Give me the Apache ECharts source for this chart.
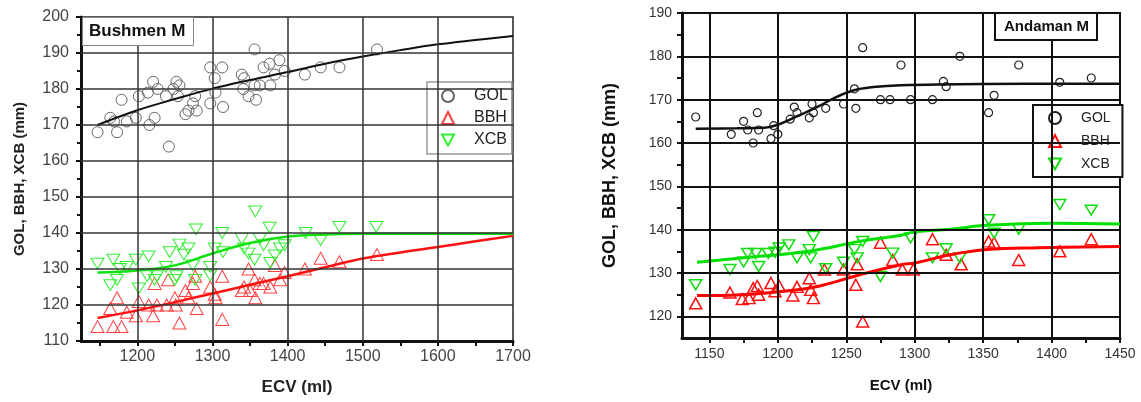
<!DOCTYPE html>
<html><head><meta charset="utf-8">
<script src="https://cdn.jsdelivr.net/npm/echarts@6/dist/echarts.min.js"></script>
<style>html,body{margin:0;padding:0;background:#fff}#c{width:1141px;height:402px}</style>
</head><body><div id="c"></div>
<script>
// ---------- Bushmen M (left) ----------
const bushGOL = [[1147,168],[1164,172],[1169,171],[1173,168],[1179,177],[1186,171],[1198,172],[1202,178],[1214,179],[1216,170],[1221,182],[1223,172],[1227,180],[1238,178],[1242,164],[1248,180],[1252,182],[1256,181],[1254,178],[1264,173],[1268,174],[1274,176],[1277,178],[1279,174],[1297,186],[1297,176],[1303,183],[1304,179],[1313,186],[1314,175],[1339,184],[1342,183],[1341,180],[1348,178],[1356,191],[1356,181],[1358,177],[1363,181],[1368,186],[1376,187],[1377,181],[1383,184],[1389,188],[1396,185],[1423,184],[1444,186],[1469,186],[1519,191]];
const bushBBH = [[1147,114],[1168,114],[1179,114],[1164,119],[1173,122],[1186,118],[1198,117],[1202,121],[1215,120],[1221,117],[1226,120],[1223,126],[1239,120],[1241,127],[1250,122],[1251,120],[1256,115],[1264,124],[1268,122],[1274,126],[1277,128],[1279,119],[1297,125],[1303,123],[1304,122],[1313,128],[1313,116],[1339,124],[1342,125],[1348,130],[1350,124],[1356,127],[1357,122],[1363,126],[1368,126],[1377,125],[1383,131],[1390,127],[1396,129],[1423,130],[1444,133],[1469,132],[1519,134]];
const bushXCB = [[1147,131.5],[1168,132.6],[1164,125.5],[1173,127],[1177,130],[1186,130.6],[1198,132.6],[1202,124.6],[1215,133.5],[1213,128],[1223,127],[1226,128],[1238,130.6],[1243,134.7],[1250,127],[1252,128],[1256,136.8],[1262,134],[1268,135.7],[1274,131],[1278,141],[1277,127],[1297,128.2],[1297,130.6],[1303,135.7],[1313,140],[1314,134.7],[1339,138.4],[1342,135.7],[1348,134.3],[1357,146],[1356,132.6],[1363,138.4],[1368,136.6],[1376,141.5],[1377,131.7],[1383,133.8],[1390,135.7],[1396,136.6],[1424,140],[1444,138],[1469,141.7],[1518,141.7]];
const bushGOLfit = [[1147,170],[1200,174.1],[1250,177.2],[1300,180.1],[1350,182.5],[1400,184.7],[1450,187],[1500,189],[1550,190.8],[1600,192.4],[1650,193.6],[1700,194.7]];
const bushBBHfit = [[1147,116.4],[1200,118.5],[1250,120.8],[1300,123.2],[1350,125.6],[1400,128],[1450,130.5],[1500,132.9],[1550,134.6],[1600,136.1],[1650,137.7],[1700,139.2]];
const bushXCBfit = [[1147,129],[1200,129.6],[1250,131],[1300,134.3],[1350,137.2],[1400,139],[1450,139.6],[1500,139.8],[1600,139.8],[1700,139.8]];
const bushXLabels = [1200,1300,1400,1500,1600,1700];
const bushXTicks = [1150,1200,1250,1300,1350,1400,1450,1500,1550,1600,1650,1700];
const bushXGrid = [1200,1300,1400,1500,1600];
const bushYGrid = [120,130,140,150,160,170,180,190];

// ---------- Andaman M (right) ----------
const andGOL = [[1140,166],[1166,162],[1175,165],[1178,163],[1182,160],[1185,167],[1186,163],[1195,161],[1197,164],[1200,162],[1209,165.5],[1212,168.3],[1214,167],[1223,165.8],[1225,169],[1226,167],[1235,168],[1248,169],[1256,172.5],[1257,168],[1262,182],[1275,170],[1282,170],[1290,178],[1297,170],[1313,170],[1321,174.2],[1323,173],[1333,180],[1354,167],[1358,171],[1376,178],[1406,174],[1429,175]];
const andBBH = [[1140,123],[1165,125.5],[1174,124],[1179,124.2],[1182,126.5],[1185,127],[1186,125],[1195,127.7],[1201,127],[1198,125.8],[1211,124.8],[1214,126.8],[1223,128.8],[1224,126.1],[1226,124.2],[1234,130.8],[1248,130.8],[1257,127.3],[1258,132],[1262,118.8],[1275,137],[1284,133],[1291,130.8],[1299,130.8],[1313,137.8],[1323,134.2],[1334,132],[1354,137.3],[1358,137],[1376,133],[1406,135],[1429,137.8]];
const andXCB = [[1140,127.3],[1165,130.8],[1175,132.5],[1178,134.5],[1184,134.5],[1186,131.5],[1193,134.5],[1198,134.8],[1201,135.8],[1208,136.5],[1214,133.5],[1223,135.4],[1224,133.5],[1226,138.4],[1235,131],[1248,132.5],[1256,135.4],[1258,133.5],[1262,137.3],[1275,129.2],[1284,134.6],[1297,138.1],[1313,133.5],[1323,135.6],[1333,133.5],[1354,142.3],[1358,139.2],[1376,140.1],[1406,145.8],[1429,144.5]];
const andGOLfit = [[1140,163.3],[1170,163.4],[1190,163.5],[1200,164.2],[1215,166.3],[1230,168.5],[1240,170.2],[1255,172.1],[1270,172.9],[1290,173.3],[1350,173.6],[1450,173.7]];
const andBBHfit = [[1141,124.8],[1173,125],[1204,125.8],[1229,126.9],[1260,129.6],[1290,131.9],[1300,132.3],[1326,134.2],[1353,135.4],[1390,135.8],[1450,136.1]];
const andXCBfit = [[1141,132.5],[1175,133.5],[1224,135.1],[1260,137.3],[1290,138.7],[1300,139.5],[1326,140.1],[1353,141],[1400,141.5],[1450,141.3]];
const andXLabels = [1150,1200,1250,1300,1350,1400,1450];
const andXTicks = [1150,1175,1200,1225,1250,1275,1300,1325,1350,1375,1400,1425,1450];
const andYLabels = [120,130,140,150,160,170,180,190];
const andYTicks = [120,125,130,135,140,145,150,155,160,165,170,175,180,185,190];
const andXGrid = [1150,1200,1250,1300,1350,1400];
const andYGrid = [120,130,140,150,160,170,180];

const NB = '\u00a0';
const DOWN = 'path://M0,0L10,0L5,9Z';
const plain = v => String(v);
function gridSeries(gi, xs, ys, color, w) {
  return {type:'scatter', xAxisIndex:gi, yAxisIndex:gi, data:[], z:1, silent:true,
    markLine:{silent:true, symbol:['none','none'], label:{show:false}, animation:false,
      lineStyle:{color:color, width:w, type:'solid'},
      data: xs.map(v=>({xAxis:v})).concat(ys.map(v=>({yAxis:v})))}};
}
function pts(name, gi, data, sym, size, stroke, bw) {
  return {type:'scatter', name:name, xAxisIndex:gi, yAxisIndex:gi, data:data, z:3,
    symbol:sym, symbolSize:size, symbolKeepAspect:true,
    itemStyle:{color:'rgba(255,255,255,0)', borderColor:stroke, borderWidth:bw, opacity:1}};
}
function fit(name, gi, data, color, w) {
  return {type:'line', name:name, xAxisIndex:gi, yAxisIndex:gi, data:data, z:4, smooth:0.4,
    showSymbol:false, symbol:'none', lineStyle:{color:color, width:w}};
}
const font = 'Liberation Sans';
const chart = echarts.init(document.getElementById('c'), null, {renderer:'canvas'});
chart.setOption({
  animation:false,
  backgroundColor:'#fff',
  title:[
    {text:'Bushmen M', left:82, top:17, padding:[6,8,6,7], borderColor:'#888', borderWidth:1, backgroundColor:'#fff',
     textStyle:{fontFamily:font, fontSize:17, fontWeight:'bold', color:'#111'}},
    {text:'Andaman M', left:995, top:13, padding:[6,8,6,9], borderColor:'#111', borderWidth:2, backgroundColor:'#fff',
     textStyle:{fontFamily:font, fontSize:15, fontWeight:'bold', color:'#111'}}
  ],
  legend:[
    {data:[{name:'GOL', icon:'circle'},{name:'BBH', icon:'triangle'},{name:'XCB', icon:DOWN}],
     orient:'vertical', left:427, top:82, padding:[6,4,6,14], itemGap:6,
     itemWidth:12, itemHeight:12, backgroundColor:'#fff', borderColor:'#999', borderWidth:1.5,
     textStyle:{fontFamily:font, fontSize:16, color:'#222', padding:[0,0,0,15]}},
    {data:[{name:'GOL'+NB, icon:'circle'},{name:'BBH'+NB, icon:'triangle'},{name:'XCB'+NB, icon:DOWN}],
     orient:'vertical', left:1033, top:105, padding:[6,8,6,15], itemGap:9,
     itemWidth:12, itemHeight:12, backgroundColor:'#fff', borderColor:'#111', borderWidth:2,
     textStyle:{fontFamily:font, fontSize:14, color:'#222', padding:[0,0,0,15]}}
  ],
  grid:[
    {left:81, top:17, width:432, height:324, show:true, borderColor:'#222', borderWidth:1.5, backgroundColor:'transparent'},
    {left:682, top:13, width:438, height:325, show:true, borderColor:'#111', borderWidth:2, backgroundColor:'transparent'}
  ],
  xAxis:[
    {gridIndex:0, type:'value', min:1125, max:1700, interval:25,
     name:'ECV (ml)', nameLocation:'middle', nameGap:38,
     nameTextStyle:{fontFamily:font, fontSize:17, fontWeight:'bold', color:'#222'},
     axisLine:{show:true, lineStyle:{color:'#111', width:3}},
     axisTick:{show:true, customValues:bushXTicks, length:5, inside:false, lineStyle:{color:'#111', width:2}},
     axisLabel:{customValues:bushXLabels, formatter:plain, fontFamily:font, fontSize:16, color:'#444', margin:8},
     splitLine:{show:false}},
    {gridIndex:1, type:'value', min:1130, max:1450, interval:10,
     name:'ECV (ml)', nameLocation:'middle', nameGap:40,
     nameTextStyle:{fontFamily:font, fontSize:15, fontWeight:'bold', color:'#111'},
     axisLine:{show:true, lineStyle:{color:'#111', width:3}},
     axisTick:{show:true, customValues:andXTicks, length:5, lineStyle:{color:'#111', width:2}},
     axisLabel:{customValues:andXLabels, formatter:plain, fontFamily:font, fontSize:14, color:'#333', margin:9},
     splitLine:{show:false}}
  ],
  yAxis:[
    {gridIndex:0, type:'value', min:110, max:200, interval:10,
     name:'GOL, BBH, XCB (mm)', nameLocation:'middle', nameGap:54,
     nameTextStyle:{fontFamily:font, fontSize:15, fontWeight:'bold', color:'#222'},
     axisLine:{show:true, lineStyle:{color:'#111', width:3}},
     axisTick:{show:true, length:5, lineStyle:{color:'#111', width:2}},
     minorTick:{show:true, splitNumber:2, length:4, lineStyle:{color:'#111', width:2}},
     axisLabel:{formatter:plain, fontFamily:font, fontSize:16, color:'#444', margin:12},
     splitLine:{show:false}},
    {gridIndex:1, type:'value', min:115, max:190, interval:5,
     name:'GOL, BBH, XCB (mm)', nameLocation:'middle', nameGap:63,
     nameTextStyle:{fontFamily:font, fontSize:18, fontWeight:'bold', color:'#111'},
     axisLine:{show:true, lineStyle:{color:'#111', width:3}},
     axisTick:{show:true, customValues:andYTicks, length:5, lineStyle:{color:'#111', width:2}},
     axisLabel:{customValues:andYLabels, formatter:plain, fontFamily:font, fontSize:14, color:'#333', margin:10},
     splitLine:{show:false}}
  ],
  series:[
    gridSeries(0, bushXGrid, bushYGrid, '#333', 1.5),
    gridSeries(1, andXGrid, andYGrid, '#111', 2),
    pts('GOL', 0, bushGOL, 'circle', 11, '#666', 1),
    pts('BBH', 0, bushBBH, 'triangle', [13,12], '#ff4040', 1),
    pts('XCB', 0, bushXCB, DOWN, [13,12], '#30ee30', 1),
    fit('GOL fit', 0, bushGOLfit, '#111', 2),
    fit('BBH fit', 0, bushBBHfit, '#ff1010', 2.5),
    fit('XCB fit', 0, bushXCBfit, '#10e010', 2.5),
    pts('GOL'+NB, 1, andGOL, 'circle', 8, '#222', 1.2),
    pts('BBH'+NB, 1, andBBH, 'triangle', [12,11], '#ff1010', 1.5),
    pts('XCB'+NB, 1, andXCB, DOWN, [12,11], '#10dd10', 1.5),
    fit('GOL fit2', 1, andGOLfit, '#111', 2.5),
    fit('BBH fit2', 1, andBBHfit, '#ff0000', 3),
    fit('XCB fit2', 1, andXCBfit, '#00e000', 3)
  ]
});
</script></body></html>
